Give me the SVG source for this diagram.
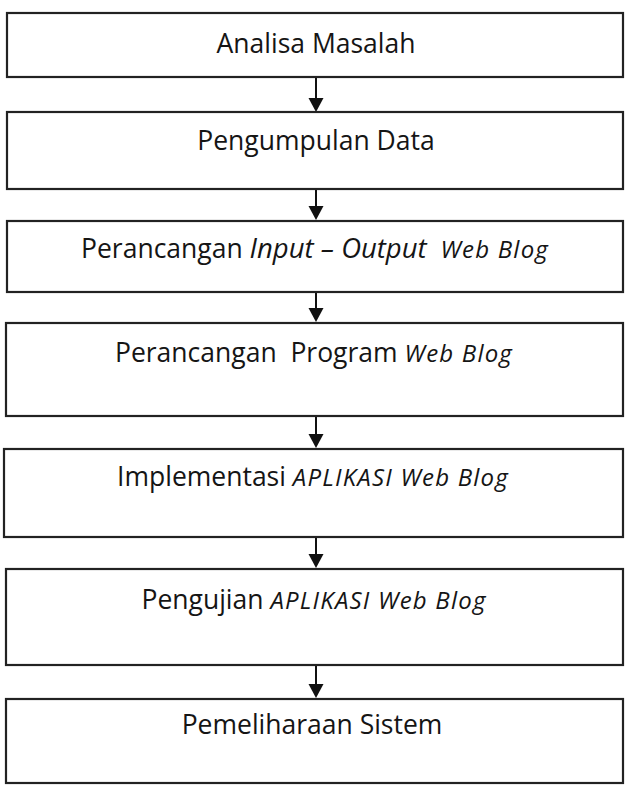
<svg xmlns="http://www.w3.org/2000/svg" width="634" height="791" viewBox="0 0 634 791">
<style>
.box{fill:#fff;stroke:#222;stroke-width:2.2}
.t{font-family:"Open Sans","Liberation Sans",sans-serif;font-size:26.5px;fill:#151515;text-anchor:middle}
.i{font-style:italic}
.b{font-size:27.5px}
.s{font-size:24px;letter-spacing:1.2px}
.c{stroke:#111;stroke-width:2;fill:none}
.h{fill:#111}
</style>
<rect width="634" height="791" fill="#fff"/>
<g id="connectors">
<path class="c" d="M316,78 V99"/><path class="h" d="M308.5,98 L323.5,98 L316,112 Z"/>
<path class="c" d="M316,190 V208"/><path class="h" d="M308.5,206 L323.5,206 L316,220 Z"/>
<path class="c" d="M316,293 V310"/><path class="h" d="M308.5,308 L323.5,308 L316,322 Z"/>
<path class="c" d="M316,417 V436"/><path class="h" d="M308.5,434 L323.5,434 L316,448 Z"/>
<path class="c" d="M316,538 V556"/><path class="h" d="M308.5,554 L323.5,554 L316,568 Z"/>
<path class="c" d="M316,666 V686"/><path class="h" d="M308.5,684 L323.5,684 L316,698 Z"/>
</g>
<g id="n1"><rect class="box" x="7" y="13" width="616" height="64"/><text class="t" x="316" y="53">Analisa Masalah</text></g>
<g id="n2"><rect class="box" x="7" y="112" width="616" height="77"/><text class="t" x="316" y="150">Pengumpulan Data</text></g>
<g id="n3"><rect class="box" x="7" y="221" width="616" height="71"/><text class="t" x="315" y="258" xml:space="preserve">Perancangan <tspan class="i b">Input – Output</tspan>  <tspan class="i s">Web Blog</tspan></text></g>
<g id="n4"><rect class="box" x="6" y="323" width="617" height="93"/><text class="t" x="314" y="362" xml:space="preserve">Perancangan  Program <tspan class="i s">Web Blog</tspan></text></g>
<g id="n5"><rect class="box" x="4" y="449" width="619" height="88"/><text class="t" x="313" y="486">Implementasi <tspan class="i s">APLIKASI Web Blog</tspan></text></g>
<g id="n6"><rect class="box" x="6" y="569" width="617" height="96"/><text class="t" x="314" y="609">Pengujian <tspan class="i s">APLIKASI Web Blog</tspan></text></g>
<g id="n7"><rect class="box" x="6" y="699" width="617" height="84"/><text class="t" x="312" y="734">Pemeliharaan Sistem</text></g>
</svg>
